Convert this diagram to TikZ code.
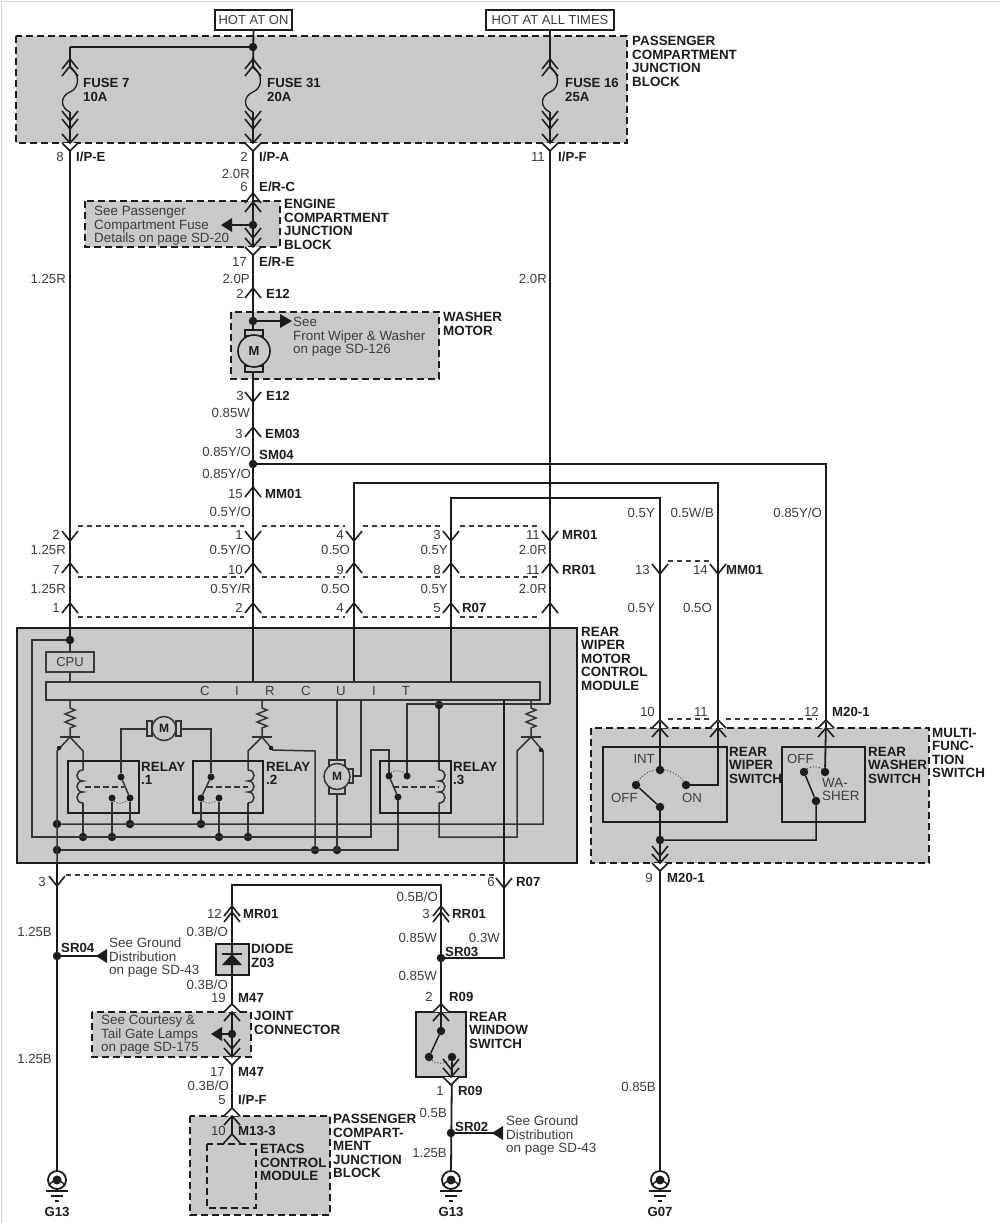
\documentclass[tikz,border=0pt]{standalone}
\usepackage{fontspec}
\setmainfont{Liberation Sans}
\definecolor{panel}{HTML}{C9C9C9}
\definecolor{ink}{HTML}{1C1C1C}
\definecolor{soft}{HTML}{3C3C3C}
\newcounter{nn}
\tikzset{
  wire/.style={draw=ink,line width=1.8pt,line join=miter},
  thin wire/.style={draw=ink!90,line width=1.5pt},
  pinline/.style={draw=ink,line width=1.6pt,line join=miter},
  linkdash/.style={draw=soft,line width=1.2pt,dash pattern=on 5pt off 4pt},
  blockdash/.style={draw=ink,fill=panel,line width=2pt,dash pattern=on 7pt off 4pt},
  innerdash/.style={draw=ink,line width=2pt,dash pattern=on 7pt off 4pt},
  solidbox/.style={draw=ink,line width=2.2pt},
  grayfill/.style={draw=ink,line width=2.2pt,fill=panel},
  jdot/.style={circle,fill=ink,inner sep=0pt,minimum size=8.5pt},
  txt/.style={inner sep=0pt,text=soft,text height=9.5pt,text depth=0pt,font=\fontsize{13.2}{13.5}\selectfont},
  bold/.style={txt,text=ink,font=\fontsize{13.2}{13.5}\selectfont\bfseries},
  block/.style={inner sep=0pt,anchor=north west,align=left,text=ink,font=\fontsize{13.4}{13.5}\selectfont\bfseries},
  note/.style={inner sep=0pt,anchor=north west,align=left,text=soft,font=\fontsize{13.4}{13.5}\selectfont},
  dotline/.style={draw=soft,line width=1pt,dotted}
}
% labels: right-aligned, left-aligned, bold left-aligned
\newcommand\TR[3]{\stepcounter{nn}\node[txt,anchor=east] (t\thenn) at (#1,#2) {#3};}
\newcommand\TL[3]{\stepcounter{nn}\node[txt,anchor=west] (t\thenn) at (#1,#2) {#3};}
\newcommand\BL[3]{\stepcounter{nn}\node[bold,anchor=west] (t\thenn) at (#1,#2) {#3};}
\newcommand\BB[3]{\stepcounter{nn}\node[block] (t\thenn) at (#1,#2) {#3};}
\newcommand\NB[3]{\stepcounter{nn}\node[note] (t\thenn) at (#1,#2) {#3};}
% connector chevrons
\newcommand\pinD[2]{\draw[pinline,shift={(#1,#2)}] (-8,-10)--(0,0)--(8,-10);}
\newcommand\pinU[2]{\draw[pinline,shift={(#1,#2)}] (-8,10)--(0,0)--(8,10);}
\newcommand\capD[2]{\draw[pinline,fill=white,shift={(#1,#2)}] (-8,0)--(0,8)--(8,0);\draw[pinline,shift={(#1,#2)}] (-8,-9)--(0,0)--(8,-9);}
\newcommand\capU[2]{\draw[pinline,fill=white,shift={(#1,#2)}] (-8,0)--(0,-8)--(8,0);\draw[pinline,shift={(#1,#2)}] (-8,9)--(0,0)--(8,9);}
% fuse and chevrons around it
\newcommand\fuse[1]{
  \draw[wire,line width=1.3pt,shift={(#1,68)}] (0,0) .. controls (10,5) and (10,20) .. (0,24) .. controls (-10,28) and (-10,40) .. (0,44);
  \pinU{#1}{59}\pinU{#1}{66}\pinD{#1}{121}\pinD{#1}{129}\capD{#1}{143}
}
\newcommand\ground[2]{
  \draw[wire,fill=white] (#1,1180) circle (9);
  \node[jdot,minimum size=9pt] (gd#2) at (#1,1180) {};
  \draw[wire,line width=1.4pt] (#1-8,1186) arc (200:340:8.4);
  \draw[wire,line width=1.6pt] (#1-11,1191)--(#1+11,1191) (#1-6,1196)--(#1+6,1196) (#1-2,1201)--(#1+2,1201);
}
\newcommand\resistor[1]{\draw[thin wire,shift={(#1,700)}] (0,0)--(0,8)--(5,10)--(-5,14)--(5,18)--(-5,22)--(5,26)--(0,28)--(0,37);}
\newcommand\coilL[1]{\draw[thin wire,shift={(#1,770)}] (0,0) .. controls (-8,0) and (-8,11) .. (0,11) .. controls (-8,11) and (-8,22) .. (0,22) .. controls (-8,22) and (-8,33) .. (0,33);}
\newcommand\coilR[1]{\draw[thin wire,shift={(#1,770)}] (0,0) .. controls (8,0) and (8,11) .. (0,11) .. controls (8,11) and (8,22) .. (0,22) .. controls (8,22) and (8,33) .. (0,33);}
\begin{document}
\begin{tikzpicture}[x=1pt,y=-1pt]
\useasboundingbox (0,0) rectangle (1000,1223);
\fill[white] (0,0) rectangle (1000,1223);
\draw[black!18,line width=0.8pt] (1.5,1223)--(1.5,1.5)--(1000,1.5);

% ---------- panels
\draw[blockdash] (16,36) rectangle (627,143);
\draw[blockdash] (85,201) rectangle (280,247);
\draw[blockdash] (231,312) rectangle (439,379);
\draw[grayfill] (17,628) rectangle (577,863);
\draw[blockdash] (591,728) rectangle (929,863);
\draw[grayfill] (216,944) rectangle (249,975);
\draw[blockdash] (92,1012) rectangle (251,1057);
\draw[grayfill] (416,1012) rectangle (466,1077);
\draw[blockdash] (190,1116) rectangle (330,1215);
\draw[innerdash] (207,1144) rectangle (256,1208);

% ---------- named points
\node[draw=ink,line width=1.2pt,inner sep=0pt,minimum width=77pt,minimum height=20pt,text=soft,font=\fontsize{13}{13.5}\selectfont] (hoton) at (253.5,20) {HOT AT ON};
\node[draw=ink,line width=1.2pt,inner sep=0pt,minimum width=128pt,minimum height=20pt,text=soft,font=\fontsize{13}{13.5}\selectfont] (hotall) at (550,20) {HOT AT ALL TIMES};
\node[jdot] (j31) at (253,47) {};
\node[jdot] (jer) at (253,225) {};
\node[jdot] (jwm) at (253,321) {};
\node[jdot] (jsm) at (253,464) {};
\node[jdot] (jtop) at (70,640) {};
\node[jdot] (j824a) at (57,824) {};
\node[jdot] (j824b) at (130,824) {};
\node[jdot] (j824c) at (201,824) {};
\node[jdot] (j837a) at (83,837) {};
\node[jdot] (j837b) at (112,837) {};
\node[jdot] (j837c) at (219,837) {};
\node[jdot] (j837d) at (248,837) {};
\node[jdot] (j850a) at (57,850) {};
\node[jdot] (j850b) at (315,850) {};
\node[jdot] (j850c) at (337,850) {};
\node[jdot] (j3top) at (439,705) {};
\node[jdot] (jsr04) at (57,956) {};
\node[jdot] (jsr03) at (441,958) {};
\node[jdot] (jsr02) at (451,1133) {};
\node[jdot] (jjc) at (232,1034) {};
\node[jdot] (jfs) at (660,840) {};

\coordinate (a70) at (70,47);
\coordinate (a70f) at (70,68);
\coordinate (a70b) at (70,112);
\coordinate (a70c) at (70,652);
\coordinate (a253f) at (253,68);
\coordinate (a253b) at (253,112);
\coordinate (a253c) at (253,682);
\coordinate (a550f) at (550,68);
\coordinate (a550b) at (550,112);
\coordinate (a550c) at (550,704);
\coordinate (a354t) at (354,483);
\coordinate (a354c) at (354,682);
\coordinate (a451t) at (451,498);
\coordinate (a451c) at (451,682);
\coordinate (a660t) at (660,498);
\coordinate (a718t) at (718,483);
\coordinate (a826t) at (826,464);

% ---------- main wires
\draw[wire] (a70)--(a70f);
\draw[wire] (a70b)--(a70c);
\draw[wire] (a70)--(j31);
\draw[wire] (hoton.south)--(a253f);
\draw[wire] (a253b)--(a253c);
\draw[wire] (hotall.south)--(a550f);
\draw[wire] (a550b)--(a550c);
\draw[wire] (jsm)--(a826t)--(826,725);
\draw[wire] (a354c)--(a354t)--(a718t)--(718,722);
\draw[wire] (a451c)--(a451t)--(a660t)--(660,722);
\fuse{70}\fuse{253}\fuse{550}

% inter-pin dashes
\draw[linkdash] (78,526)--(244,526) (262,526)--(345,526) (363,526)--(442,526) (460,526)--(541,526);
\draw[linkdash] (78,577)--(244,577) (262,577)--(345,577) (363,577)--(442,577) (460,577)--(541,577);
\draw[linkdash] (78,617)--(244,617) (262,617)--(345,617) (363,617)--(442,617) (460,617)--(541,617);
\draw[linkdash] (668,561)--(709,561);
\draw[linkdash] (668,719)--(709,719) (726,719)--(817,719);
\draw[linkdash] (66,875)--(495,875);

% pins along main wires
\pinU{253}{193}\pinU{253}{202}\pinD{253}{238}\capD{253}{247}
\pinU{253}{288}
\pinD{253}{402}\pinU{253}{427}\pinU{253}{487}
\foreach \x in {70,253,354,451,550}{\pinD{\x}{541}\pinU{\x}{563}\pinU{\x}{603}}
\pinD{660}{574}\pinD{718}{574}

% ---------- washer motor
\draw[wire,line width=1.4pt,fill=panel] (245,330) rectangle (263,336);
\draw[wire,line width=1.4pt,fill=panel] (245,366) rectangle (263,372);
\draw[wire,line width=1.6pt,fill=panel] (254,351) circle (16);
\node[inner sep=0pt,text=ink,font=\fontsize{13}{13.5}\selectfont\bfseries] (mw) at (254,351) {M};
\draw[wire] (jwm)--(280,321);
\fill[ink] (280,314)--(292,321)--(280,328)--cycle;
% left arrow of E/R block
\draw[wire,line width=1.2pt] (jer)--(230,225);
\fill[ink] (232,218)--(221,225)--(232,232)--cycle;

% ---------- module interior
\node[draw=soft,line width=1.3pt,minimum width=48pt,minimum height=20pt,inner sep=0pt,text=soft,font=\fontsize{13}{13.5}\selectfont] (cpu) at (70,662) {CPU};
\draw[thin wire,fill=panel] (46,682) rectangle (540,700);
\foreach \x/\l in {205/C,237/I,270/R,306/C,341/U,374/I,406/T}{\node[txt,anchor=center] at (\x,691) {\l};}
\draw[thin wire] (cpu.south)--(70,682);
\draw[thin wire] (a70c)--(jtop);
\draw[thin wire] (jtop)--(32,640)--(32,837)--(371,837)--(371,750)--(389,750)--(389,776);
\draw[thin wire] (a550c)--(407,704)--(407,776);
\draw[thin wire] (j3top)--(439,770);
\draw[thin wire] (439,803)--(439,837)--(517,837)--(517,751)--(531,737);
\draw[thin wire] (j824a)--(543,824)--(543,751)--(531,737);
\draw[thin wire] (j850a)--(398,850)--(398,797);
\draw[thin wire] (337,700)--(337,850);
\draw[thin wire] (361,700)--(361,776)--(351,776);
% transistors
\resistor{70}\resistor{262}\resistor{531}
\draw[thin wire,line width=1.6pt] (60,737)--(80,737) (252,737)--(272,737) (521,737)--(541,737);
\draw[thin wire] (70,737)--(57,751)--(57,863);
\fill[ink] (59,748) circle (2.2);
\draw[thin wire] (70,737)--(83,751)--(83,770);
\draw[thin wire] (83,803)--(j837a);
\draw[thin wire] (262,737)--(248,751)--(248,770);
\draw[thin wire] (248,803)--(j837d);
\draw[thin wire] (262,737)--(273,750)--(315,751)--(j850b);
\fill[ink] (271,748) circle (2.2);
\fill[ink] (541,750) circle (2.2);
% relays
\draw[solidbox] (68,761) rectangle (139,813);
\draw[solidbox] (193,761) rectangle (263,813);
\draw[solidbox] (380,761) rectangle (451,813);
\coilL{83}\coilR{248}\coilR{439}
\draw[thin wire,dash pattern=on 6pt off 3pt] (85,787)--(124,787) (207,787)--(248,787) (393,787)--(439,787);
% relay contacts
\foreach \n/\x/\y in {ra/121/777,rb/130/798,rc/112/798,rd/211/777,re/201/798,rf/219/798,rg/389/776,rh/407/776,ri/398/797}{\node[circle,fill=ink,inner sep=0pt,minimum size=7pt] (\n) at (\x,\y) {};}
\draw[thin wire] (ra)--(rb) (rd)--(re) (rg)--(ri);
\draw[thin wire] (rb)--(j824b) (rc)--(j837b) (re)--(j824c) (rf)--(j837c);
\draw[dotline] (rc) .. controls (116,804) and (124,804) .. (rb);
\draw[dotline] (re) .. controls (205,804) and (213,804) .. (rf);
\draw[dotline] (rg) .. controls (393,770) and (402,770) .. (rh);
% top motor
\draw[thin wire,fill=panel] (147,721) rectangle (152,736);
\draw[thin wire,fill=panel] (176,721) rectangle (181,736);
\draw[thin wire,fill=panel] (164,728.5) circle (12);
\node[inner sep=0pt,text=ink,font=\fontsize{12}{13}\selectfont\bfseries] (mt) at (164,728.5) {M};
\draw[thin wire] (147,729)--(121,729)--(ra);
\draw[thin wire] (181,729)--(211,729)--(rd);
% middle motor
\draw[thin wire,fill=panel] (329,760) rectangle (345,767);
\draw[thin wire,fill=panel] (329,787) rectangle (345,794);
\draw[thin wire,fill=panel] (348,769) rectangle (353,783);
\draw[thin wire,fill=panel] (337,776.5) circle (13);
\node[inner sep=0pt,text=ink,font=\fontsize{12}{13}\selectfont\bfseries] (mm) at (337,776.5) {M};

% ---------- below the module
\coordinate (c57) at (57,863);
\coordinate (g57) at (57,1171);
\coordinate (g451) at (451,1171);
\coordinate (g660) at (660,1171);
\coordinate (r504t) at (504,700);
\coordinate (r504) at (504,958);
\draw[wire] (c57)--(g57);
\draw[wire,line width=1.3pt] (r504t)--(504,863);
\draw[wire] (504,863)--(r504)--(jsr03);
\pinD{57}{886}\pinD{504}{888}
\draw[wire,line width=1.2pt] (jsr04)--(98,956);
\fill[ink] (107,949)--(96,956)--(107,963)--cycle;
\ground{57}{a}\ground{451}{b}\ground{660}{c}

% diode chain
\coordinate (top232) at (232,885);
\coordinate (top441) at (441,885);
\coordinate (d232) at (232,1135);
\draw[wire] (d232)--(top232)--(top441)--(jsr03);
\pinU{232}{906}\pinU{441}{906}\pinU{232}{912}\pinU{441}{912}
\fill[ink] (222,965)--(242,965)--(232,954)--cycle;
\draw[wire,line width=1.5pt] (222,954)--(242,954);
\capU{232}{1012}\capU{441}{1012}
\pinD{232}{1049}\capD{232}{1057}
\draw[wire,line width=1.2pt] (jjc)--(220,1034);
\fill[ink] (222,1027)--(211,1034)--(222,1041)--cycle;
\capU{232}{1116}
\draw[pinline] (223,1144)--(232,1134)--(241,1144);

% rear window switch
\node[jdot] (rw1) at (441,1031) {};
\node[jdot] (rw2) at (429,1057) {};
\node[jdot] (rw3) at (452,1057) {};
\draw[wire] (jsr03)--(rw1);
\draw[wire,line width=1.5pt] (rw1)--(rw2);
\draw[dotline] (rw2) .. controls (435,1064) and (446,1064) .. (rw3);
\draw[wire] (rw3)--(g451);
\draw[wire,line width=1.2pt] (jsr02)--(493,1133);
\fill[ink] (503,1126)--(492,1133)--(503,1140)--cycle;
\pinD{451}{1069}\capD{451}{1077}

% ---------- multifunction switch
\draw[solidbox] (603,747) rectangle (727,822);
\draw[solidbox] (782,747) rectangle (865,822);
\capU{660}{728}\capU{718}{728}\capU{826}{728}
\node[jdot] (sint) at (660,770) {};
\node[jdot] (soff) at (636,785) {};
\node[jdot] (son) at (686,785) {};
\node[jdot] (scm) at (660,807) {};
\node[jdot] (w1) at (804,772) {};
\node[jdot] (w2) at (825,772) {};
\node[jdot] (w3) at (816,801) {};
\draw[wire] (660,722)--(sint);
\draw[wire,line width=1.5pt] (718,722)--(718,785)--(son);
\draw[wire] (826,722)--(w2);
\draw[wire,line width=1.5pt] (scm)--(soff);
\draw[wire] (scm)--(g660);
\draw[wire,line width=1.5pt] (jfs)--(816,840)--(w3)--(w1);
\draw[dotline] (soff) .. controls (643,773) and (653,770) .. (sint);
\draw[dotline] (sint) .. controls (668,770) and (680,775) .. (son);
\draw[dotline] (w1) .. controls (810,766) and (819,766) .. (w2);
\pinD{660}{856}\capD{660}{863}

% ---------- text
\BL{83}{83}{FUSE 7}\BL{83}{97}{10A}
\BL{267}{83}{FUSE 31}\BL{267}{97}{20A}
\BL{565}{83}{FUSE 16}\BL{565}{97}{25A}
\BB{632}{36}{PASSENGER\\COMPARTMENT\\JUNCTION\\BLOCK}
\TR{64}{157}{8}\BL{76}{157}{I/P-E}
\TR{248}{157}{2}\BL{259}{157}{I/P-A}
\TR{545}{157}{11}\BL{558}{157}{I/P-F}
\TR{250}{174}{2.0R}
\TR{248}{187}{6}\BL{259}{187}{E/R-C}
\NB{94}{206}{See Passenger\\Compartment Fuse\\Details on page SD-20}
\BB{284}{199}{ENGINE\\COMPARTMENT\\JUNCTION\\BLOCK}
\TR{247}{262}{17}\BL{259}{262}{E/R-E}
\TR{250}{279}{2.0P}\TR{66}{279}{1.25R}\TR{547}{279}{2.0R}
\TR{244}{294}{2}\BL{266}{294}{E12}
\NB{293}{317}{See\\Front Wiper \& Washer\\on page SD-126}
\BB{443}{312}{WASHER\\MOTOR}
\TR{244}{396}{3}\BL{266}{396}{E12}
\TR{250}{413}{0.85W}
\TR{243}{434}{3}\BL{265}{434}{EM03}
\TR{251}{452}{0.85Y/O}\BL{259}{455}{SM04}
\TR{251}{474}{0.85Y/O}
\TR{243}{494}{15}\BL{265}{494}{MM01}
\TR{251}{512}{0.5Y/O}
\TR{655}{513}{0.5Y}\TR{714}{513}{0.5W/B}\TR{822}{513}{0.85Y/O}
\TR{60}{535}{2}\TR{243}{535}{1}\TR{344}{535}{4}\TR{441}{535}{3}\TR{540}{535}{11}\BL{562}{535}{MR01}
\TR{66}{550}{1.25R}\TR{251}{550}{0.5Y/O}\TR{350}{550}{0.5O}\TR{448}{550}{0.5Y}\TR{547}{550}{2.0R}
\TR{60}{570}{7}\TR{243}{570}{10}\TR{344}{570}{9}\TR{441}{570}{8}\TR{540}{570}{11}\BL{562}{570}{RR01}
\TR{650}{570}{13}\TR{708}{570}{14}\BL{726}{570}{MM01}
\TR{66}{589}{1.25R}\TR{251}{589}{0.5Y/R}\TR{350}{589}{0.5O}\TR{448}{589}{0.5Y}\TR{547}{589}{2.0R}
\TR{60}{608}{1}\TR{243}{608}{2}\TR{344}{608}{4}\TR{441}{608}{5}\BL{462}{608}{R07}
\TR{655}{608}{0.5Y}\TR{712}{608}{0.5O}
\BB{581}{627}{REAR\\WIPER\\MOTOR\\CONTROL\\MODULE}
\BB{141}{762}{RELAY\\.1}\BB{266}{762}{RELAY\\.2}\BB{453}{762}{RELAY\\.3}
\TR{655}{712}{10}\TR{708}{712}{11}\TR{819}{712}{12}\BL{832}{712}{M20-1}
\BB{932}{728}{MULTI-\\FUNC-\\TION\\SWITCH}
\TR{655}{759}{INT}\TL{611}{798}{OFF}\TL{682}{798}{ON}
\BB{729}{747}{REAR\\WIPER\\SWITCH}
\TL{787}{759}{OFF}
\NB{822}{778}{WA-\\SHER}
\BB{868}{747}{REAR\\WASHER\\SWITCH}
\TR{653}{878}{9}\BL{667}{878}{M20-1}
\TR{46}{882}{3}\TR{495}{882}{6}\BL{516}{882}{R07}
\TR{52}{932}{1.25B}\BL{61}{948}{SR04}
\NB{109}{938}{See Ground\\Distribution\\on page SD-43}
\TR{52}{1059}{1.25B}
\TR{438}{897}{0.5B/O}
\TR{222}{914}{12}\BL{243}{914}{MR01}
\TR{430}{914}{3}\BL{452}{914}{RR01}
\TR{228}{932}{0.3B/O}\TR{437}{938}{0.85W}\TR{500}{938}{0.3W}
\BB{251}{944}{DIODE\\Z03}
\BL{445}{952}{SR03}
\TR{228}{985}{0.3B/O}\TR{437}{976}{0.85W}
\TR{226}{998}{19}\BL{238}{998}{M47}
\TR{433}{997}{2}\BL{449}{997}{R09}
\NB{101}{1015}{See Courtesy \&\\Tail Gate Lamps\\on page SD-175}
\BB{254}{1011}{JOINT\\CONNECTOR}
\BB{469}{1012}{REAR\\WINDOW\\SWITCH}
\TR{225}{1072}{17}\BL{238}{1072}{M47}
\TR{229}{1086}{0.3B/O}
\TR{444}{1091}{1}\BL{458}{1091}{R09}
\TR{226}{1100}{5}\BL{238}{1100}{I/P-F}
\TR{656}{1087}{0.85B}
\TR{447}{1113}{0.5B}\BL{455}{1127}{SR02}
\NB{506}{1116}{See Ground\\Distribution\\on page SD-43}
\TR{226}{1131}{10}\BL{238}{1131}{M13-3}
\BB{333}{1114}{PASSENGER\\COMPART-\\MENT\\JUNCTION\\BLOCK}
\BB{260}{1144}{ETACS\\CONTROL\\MODULE}
\TR{447}{1153}{1.25B}
\node[bold,anchor=center] (g1) at (57,1212) {G13};
\node[bold,anchor=center] (g2) at (451,1212) {G13};
\node[bold,anchor=center] (g3) at (660,1212) {G07};
\end{tikzpicture}
\end{document}
